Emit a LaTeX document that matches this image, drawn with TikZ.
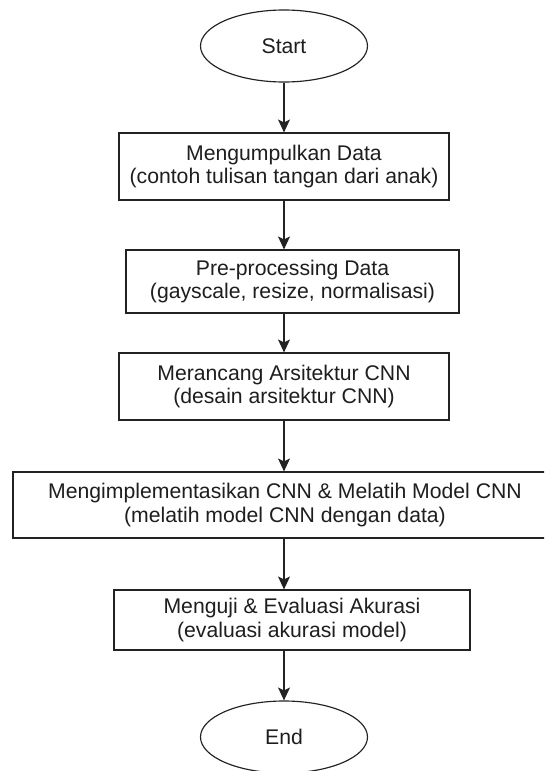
\documentclass[tikz,border=0pt]{standalone}
\usepackage{fontspec}
\setmainfont{Liberation Sans}
\usetikzlibrary{shapes.geometric,arrows.meta}
\definecolor{linec}{HTML}{222222}
\definecolor{textc}{HTML}{1E1E1E}
\tikzset{
  base/.style={draw=linec, line width=1.15pt, text=textc, inner sep=0pt,
    font=\fontsize{21.2}{23.5}\selectfont, align=center},
  procbox/.style={base, rectangle},
  terminal/.style={base, ellipse, minimum width=167pt, minimum height=72pt},
  arr/.style={draw=linec, line width=1.15pt, -{Stealth[width=12pt,length=13pt,inset=3pt]}}
}
\begin{document}
\begin{tikzpicture}[x=1pt,y=-1pt]
\useasboundingbox (0,0) rectangle (544,771);
\clip (0,0) rectangle (544,771);
\fill[white] (0,0) rectangle (544,771);
\node[terminal] (start) at (284,46) {Start};
\node[procbox, minimum width=330pt, minimum height=67pt] (b1) at (284,166.5)
  {Mengumpulkan Data\\(contoh tulisan tangan dari anak)};
\node[procbox, minimum width=333pt, minimum height=63pt] (b2) at (292.5,281.5)
  {Pre-processing Data\\(gayscale, resize, normalisasi)};
\node[procbox, minimum width=330pt, minimum height=67pt] (b3) at (284,386.5)
  {Merancang Arsitektur CNN\\(desain arsitektur CNN)};
\node[procbox, minimum width=544pt, minimum height=66pt] (b4) at (285,505)
  {Mengimplementasikan CNN \& Melatih Model CNN\\(melatih model CNN dengan data)};
\node[procbox, minimum width=356pt, minimum height=60pt] (b5) at (292,620)
  {Menguji \& Evaluasi Akurasi\\(evaluasi akurasi model)};
\node[terminal] (end) at (284,737) {End};
\draw[arr] (start.south) -- (start.south |- b1.north);
\draw[arr] (b1.south) -- (b1.south |- b2.north);
\draw[arr] (b1.south |- b2.south) -- (b3.north);
\draw[arr] (b3.south) -- (b3.south |- b4.north);
\draw[arr] (b3.south |- b4.south) -- (b3.south |- b5.north);
\draw[arr] (b3.south |- b5.south) -- (end.north);
\end{tikzpicture}
\end{document}
